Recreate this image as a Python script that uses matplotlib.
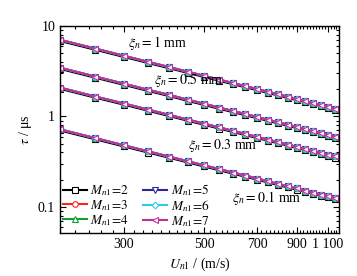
import numpy as np
import matplotlib
matplotlib.use('Agg')
import matplotlib.pyplot as plt
import matplotlib.transforms as mtransforms
from matplotlib.ticker import FixedLocator, FixedFormatter, NullFormatter

plt.rcParams['font.family'] = ['Liberation Serif', 'DejaVu Serif']
plt.rcParams['mathtext.fontset'] = 'stix'

# wave speed U_n1 (m/s)
U = [200, 250, 300, 350, 400, 450, 500, 550, 600, 650, 700,
     750, 800, 850, 900, 950, 1000, 1050, 1100, 1150, 1200]

# tau (us), one curve per xi_n (all M_n1 overlap)
tau_1mm = [7.02, 5.62, 4.68, 4.01, 3.51, 3.12, 2.81, 2.55, 2.34, 2.16, 2.01,
           1.87, 1.76, 1.65, 1.56, 1.48, 1.40, 1.34, 1.28, 1.22, 1.17]
tau_05mm = [3.45, 2.76, 2.30, 1.97, 1.73, 1.53, 1.38, 1.25, 1.15, 1.06, 0.986,
            0.920, 0.863, 0.812, 0.767, 0.726, 0.690, 0.657, 0.627, 0.600, 0.575]
tau_03mm = [2.08, 1.66, 1.39, 1.19, 1.04, 0.924, 0.832, 0.756, 0.693, 0.640, 0.594,
            0.555, 0.520, 0.489, 0.462, 0.438, 0.416, 0.396, 0.378, 0.362, 0.347]
tau_01mm = [0.720, 0.576, 0.480, 0.411, 0.360, 0.320, 0.288, 0.262, 0.240, 0.222, 0.206,
            0.192, 0.180, 0.169, 0.160, 0.152, 0.144, 0.137, 0.131, 0.125, 0.120]
curves = [tau_1mm, tau_05mm, tau_03mm, tau_01mm]
xi_labels = ['1', '0.5', '0.3', '0.1']

M_vals = [2, 3, 4, 5, 6, 7]
colors = ['#000000', '#ff2020', '#10a030', '#2a2a9a', '#30c8f0', '#c0309a']
markers = ['s', 'o', '^', 'v', 'D', '<']

xticks = [300, 500, 700, 900, 1100]
xticklabels = ['300', '500', '700', '900', '1 100']
yticks = [0.1, 1, 10]
yticklabels = ['0.1', '1', '10']

fig = plt.figure(figsize=(3.57, 2.76), dpi=100)
ax = fig.add_axes([0.168, 0.157, 0.782, 0.749])

black_shift = mtransforms.offset_copy(ax.transData, fig=fig, x=0, y=-0.8, units='points')

for i, (m, c, mk) in enumerate(zip(M_vals, colors, markers)):
    tr = black_shift if m == 2 else ax.transData
    for j, tau in enumerate(curves):
        ax.plot(U, tau, color=c, marker=mk, ms=4 if mk != 'D' else 3.4,
                mfc='white', mec=c, mew=0.8, lw=1.5, transform=tr,
                label=r'$M_{n\mathrm{1}}\!=\!%d$' % m if j == 0 else None)

ax.set_xscale('log')
ax.set_yscale('log')
ax.set_xlim(200, 1180)
ax.set_ylim(0.052, 10)

ax.xaxis.set_major_locator(FixedLocator(xticks))
ax.xaxis.set_major_formatter(FixedFormatter(xticklabels))
ax.xaxis.set_minor_locator(FixedLocator(np.arange(200, 1200, 20)))
ax.xaxis.set_minor_formatter(NullFormatter())
ax.yaxis.set_major_locator(FixedLocator(yticks))
ax.yaxis.set_major_formatter(FixedFormatter(yticklabels))
ax.yaxis.set_minor_formatter(NullFormatter())

ax.tick_params(which='both', direction='in', top=True, right=True, labelsize=10, width=0.8)
ax.tick_params(which='major', length=4)
ax.tick_params(which='minor', length=2)
for s in ax.spines.values():
    s.set_linewidth(1.0)

ax.set_xlabel(r'$U_{n\mathrm{1}}$ / (m/s)', fontsize=10, labelpad=4)
ax.set_ylabel(r'$\tau$ / μs', fontsize=10, labelpad=3)

text_pos = [(0.244, 0.918), (0.337, 0.738), (0.459, 0.424), (0.616, 0.167)]
for (tx, ty), lab in zip(text_pos, xi_labels):
    ax.text(tx, ty, r'$\xi_n = %s$ mm' % lab, transform=ax.transAxes,
            fontsize=10, va='center', ha='left')

ax.legend(ncol=2, loc='lower left', bbox_to_anchor=(0.01, 0.02), frameon=False,
          fontsize=9.5, handlelength=1.8, handletextpad=0.3, columnspacing=1.0,
          labelspacing=0.0, borderaxespad=0.0, borderpad=0.0)

fig.savefig('out.png', dpi=100)
